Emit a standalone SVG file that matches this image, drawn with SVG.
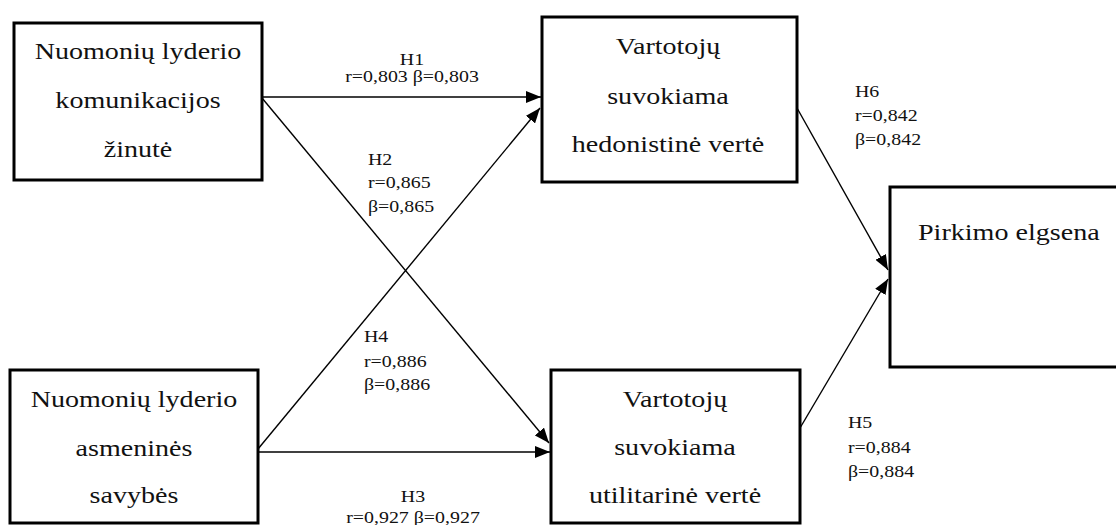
<svg xmlns="http://www.w3.org/2000/svg" width="1116" height="525" viewBox="0 0 1116 525">
<style>
.box{fill:#fff;stroke:#000;stroke-width:3}
.nt{font-family:'Liberation Serif','Times New Roman',serif;font-size:24px;fill:#111;text-anchor:middle}
.lb{font-family:'Liberation Serif','Times New Roman',serif;font-size:17px;fill:#111}
.c{stroke:#000;stroke-width:1.4;fill:none;marker-end:url(#ah)}
</style>
<defs>
<marker id="ah" markerUnits="userSpaceOnUse" markerWidth="15" markerHeight="12" refX="15" refY="6" orient="auto">
<path d="M0,0 L15,6 L0,12 z" fill="#000"/>
</marker>
</defs>
<rect width="1116" height="525" fill="#fff"/>
<g id="connectors">
<line class="c" x1="262" y1="97" x2="541" y2="97"/>
<line class="c" x1="262" y1="98" x2="549" y2="443"/>
<line class="c" x1="258" y1="449" x2="540" y2="108"/>
<line class="c" x1="258" y1="452" x2="550" y2="452"/>
<line class="c" x1="797" y1="108" x2="888" y2="270"/>
<line class="c" x1="800" y1="428" x2="888" y2="279"/>
</g>
<g id="n1">
<rect class="box" x="14" y="23" width="248" height="157"/>
<text class="nt" transform="translate(138 0) scale(1.17 1)"><tspan x="0" y="59">Nuomonių lyderio</tspan><tspan x="0" y="108">komunikacijos</tspan><tspan x="0" y="157">žinutė</tspan></text>
</g>
<g id="n2">
<rect class="box" x="10" y="370" width="248" height="153"/>
<text class="nt" transform="translate(134 0) scale(1.17 1)"><tspan x="0" y="407">Nuomonių lyderio</tspan><tspan x="0" y="456">asmeninės</tspan><tspan x="0" y="503">savybės</tspan></text>
</g>
<g id="n3">
<rect class="box" x="542" y="17" width="255" height="165"/>
<text class="nt" transform="translate(668 0) scale(1.17 1)"><tspan x="0" y="54">Vartotojų</tspan><tspan x="0" y="104">suvokiama</tspan><tspan x="0" y="152">hedonistinė vertė</tspan></text>
</g>
<g id="n4">
<rect class="box" x="551" y="370" width="249" height="153"/>
<text class="nt" transform="translate(675 0) scale(1.17 1)"><tspan x="0" y="407">Vartotojų</tspan><tspan x="0" y="455">suvokiama</tspan><tspan x="0" y="503">utilitarinė vertė</tspan></text>
</g>
<g id="n5">
<rect class="box" x="890" y="187" width="240" height="180"/>
<text class="nt" style="text-anchor:start" transform="translate(918 0) scale(1.17 1)"><tspan x="0" y="240">Pirkimo elgsena</tspan></text>
</g>
<g id="labels">
<text class="lb" text-anchor="middle" transform="translate(412 0) scale(1.17 1)"><tspan x="0" y="65">H1</tspan><tspan x="0" y="82">r=0,803 β=0,803</tspan></text>
<text class="lb" transform="translate(368 0) scale(1.17 1)"><tspan x="0" y="165">H2</tspan><tspan x="0" y="188">r=0,865</tspan><tspan x="0" y="212">β=0,865</tspan></text>
<text class="lb" transform="translate(364 0) scale(1.17 1)"><tspan x="0" y="342">H4</tspan><tspan x="0" y="367">r=0,886</tspan><tspan x="0" y="390">β=0,886</tspan></text>
<text class="lb" text-anchor="middle" transform="translate(413 0) scale(1.17 1)"><tspan x="0" y="502">H3</tspan><tspan x="0" y="523">r=0,927 β=0,927</tspan></text>
<text class="lb" transform="translate(855 0) scale(1.17 1)"><tspan x="0" y="97">H6</tspan><tspan x="0" y="121">r=0,842</tspan><tspan x="0" y="145">β=0,842</tspan></text>
<text class="lb" transform="translate(848 0) scale(1.17 1)"><tspan x="0" y="428">H5</tspan><tspan x="0" y="453">r=0,884</tspan><tspan x="0" y="477">β=0,884</tspan></text>
</g>
</svg>
